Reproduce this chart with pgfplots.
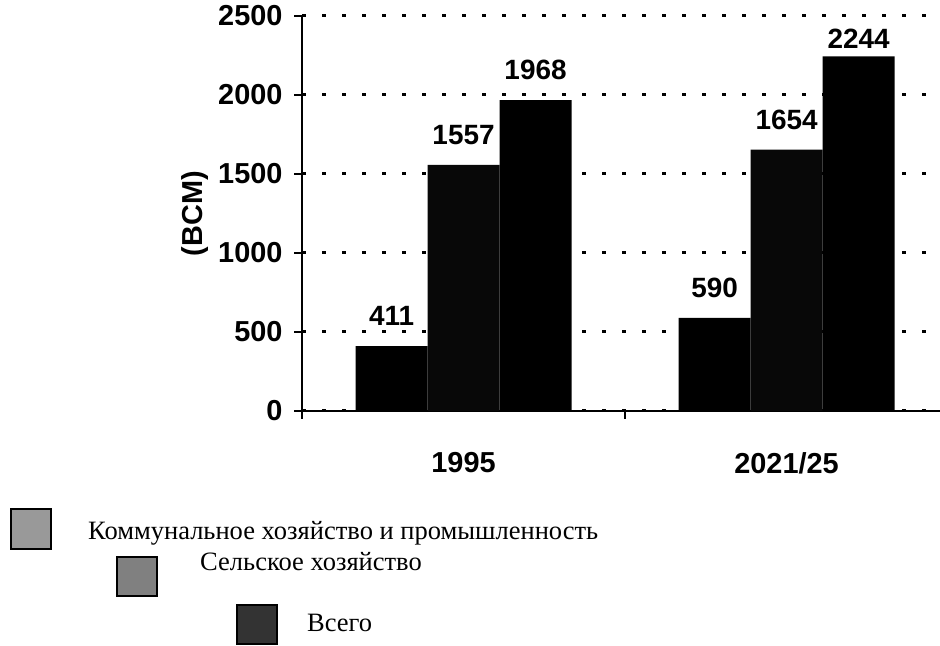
\documentclass[border=0pt]{standalone}
\usepackage{pgfplots}
\pgfplotsset{compat=1.18}
\usepackage{fontspec}
\setmainfont{Liberation Serif}
\setsansfont{Liberation Sans}
\definecolor{legA}{HTML}{999999}
\definecolor{legB}{HTML}{808080}
\definecolor{legC}{HTML}{333333}
\definecolor{barB}{HTML}{080808}
\newcommand{\bigbold}{\sffamily\bfseries\fontsize{29}{31}\selectfont}
\newcommand{\lblbold}{\sffamily\bfseries\fontsize{28}{30}\selectfont}
\begin{document}
\begin{tikzpicture}
\useasboundingbox (0bp,0bp) rectangle (940bp,646bp);
\begin{axis}[
  at={(302bp,235bp)}, anchor=south west,
  scale only axis, width=638bp, height=395bp,
  xmin=-0.5, xmax=1.475, ymin=0, ymax=2500,
  axis x line=bottom, axis y line=left,
  axis line style={line width=2.5bp, -},
  ybar=0pt, bar width=72bp,
  xtick={-0.5,0.5}, xticklabels={},
  extra x ticks={0,1}, extra x tick labels={1995,2021/25},
  extra x tick style={major tick length=0pt, xticklabel style={yshift=-38bp}},
  ytick={0,500,1000,1500,2000,2500},
  tick align=outside, major tick length=8bp,
  tick style={line width=2.5bp, black},
  ymajorgrids,
  major grid style={line width=3bp, black, dash pattern=on 4bp off 16bp},
  /pgf/number format/1000 sep={},
  /pgf/number format/assume math mode=true,
  ticklabel style={font=\bigbold},
  yticklabel style={xshift=-8bp},
  ylabel={(BCM)},
  every axis y label/.style={at={(axis description cs:0,0.5)}, rotate=90, anchor=center, yshift=107bp, font=\bigbold},
  nodes near coords,
  every node near coord/.append style={font=\lblbold, anchor=south, inner sep=0pt, yshift=20bp, black},
  clip=false,
]
\addplot[fill=black, draw=none] coordinates {(0,411) (1,590)};
\addplot[fill=barB, draw=none] coordinates {(0,1557) (1,1654)};
\addplot[fill=black, draw=none,
  coordinate style/.condition={\coordindex==1}{yshift=-12bp}] coordinates {(0,1968) (1,2244)};
\end{axis}
\draw[line width=1.5bp, fill=legA] (11bp,97bp) rectangle (51bp,137bp);
\draw[line width=1.5bp, fill=legB] (117bp,50bp) rectangle (157bp,89bp);
\draw[line width=1.5bp, fill=legC] (237bp,2bp) rectangle (277bp,41bp);
\node[anchor=base west, inner sep=0pt, font=\fontsize{26.6}{28}\selectfont] at (88bp,106bp) {Коммунальное хозяйство и промышленность};
\node[anchor=base west, inner sep=0pt, font=\fontsize{26.6}{28}\selectfont] at (200bp,75bp) {Сельское хозяйство};
\node[anchor=base west, inner sep=0pt, font=\fontsize{26.6}{28}\selectfont] at (307bp,15bp) {Всего};
\end{tikzpicture}
\end{document}
